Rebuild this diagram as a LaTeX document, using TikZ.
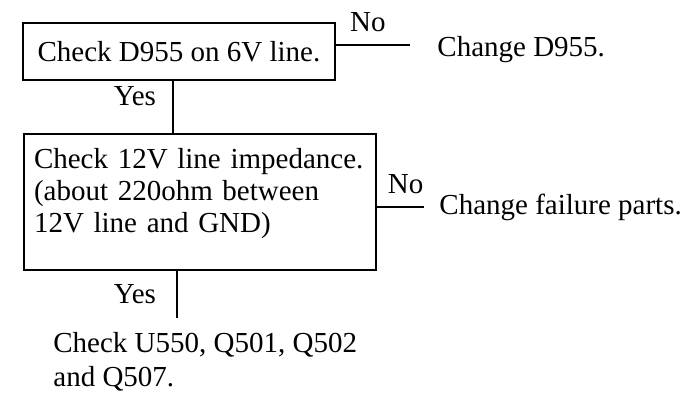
\documentclass[tikz,border=0pt]{standalone}
\usepackage{fontspec}
\setmainfont{Liberation Serif}
\usetikzlibrary{positioning}

\begin{document}
\begin{tikzpicture}[
  x=0.5pt, y=-0.5pt,
  every node/.style={font=\fontsize{14.5}{16}\selectfont, inner sep=0pt},
  box/.style={draw, line width=1pt, align=left},
  link/.style={line width=1pt},
  answer/.style={font=\fontsize{14.5}{16}\selectfont}
]
  \useasboundingbox (0,0) rectangle (684,403);

  \node[box, minimum width=156pt, minimum height=28.5pt] (d955) at (179,51.5) {Check D955 on 6V line.};
  \node[box, anchor=north west, text width=166pt, inner xsep=5pt, inner ysep=7pt, text depth=44pt] (imp)
    at (23,133) {Check 12V line impedance.\\(about 220ohm between\\12V line and GND)};

  \coordinate (spineA) at (173,0);
  \coordinate (spineB) at (177,0);
  \coordinate (noA) at (410,45);
  \coordinate (noB) at (424,207);
  \coordinate (yesB) at (177,318);

  % D955 branch
  \draw[link] (d955.south -| spineA) -- node[answer, left=8pt, pos=0.3] (yesAlbl) {Yes} (imp.north -| spineA);
  \draw[link] (d955.east |- noA) -- node[answer, above=6pt, pos=0.43] (noAlbl) {No} (noA);
  \node[anchor=west, right=13.5pt of noA, yshift=-2.5pt] (chgd955) {Change D955.};

  % impedance branch
  \draw[link] (imp.east |- noB) -- node[answer, above=6pt, pos=0.61] (noBlbl) {No} (noB);
  \node[right=7.5pt of noB] (chgparts) {Change failure parts.};
  \draw[link] (imp.south -| spineB) -- node[answer, left=10pt, pos=0.5] (yesBlbl) {Yes} (yesB);
  \node[anchor=north west, align=left, font=\fontsize{14.5}{17}\selectfont] (u550) at (53,332) {Check U550, Q501, Q502\\and Q507.};
\end{tikzpicture}
\end{document}
